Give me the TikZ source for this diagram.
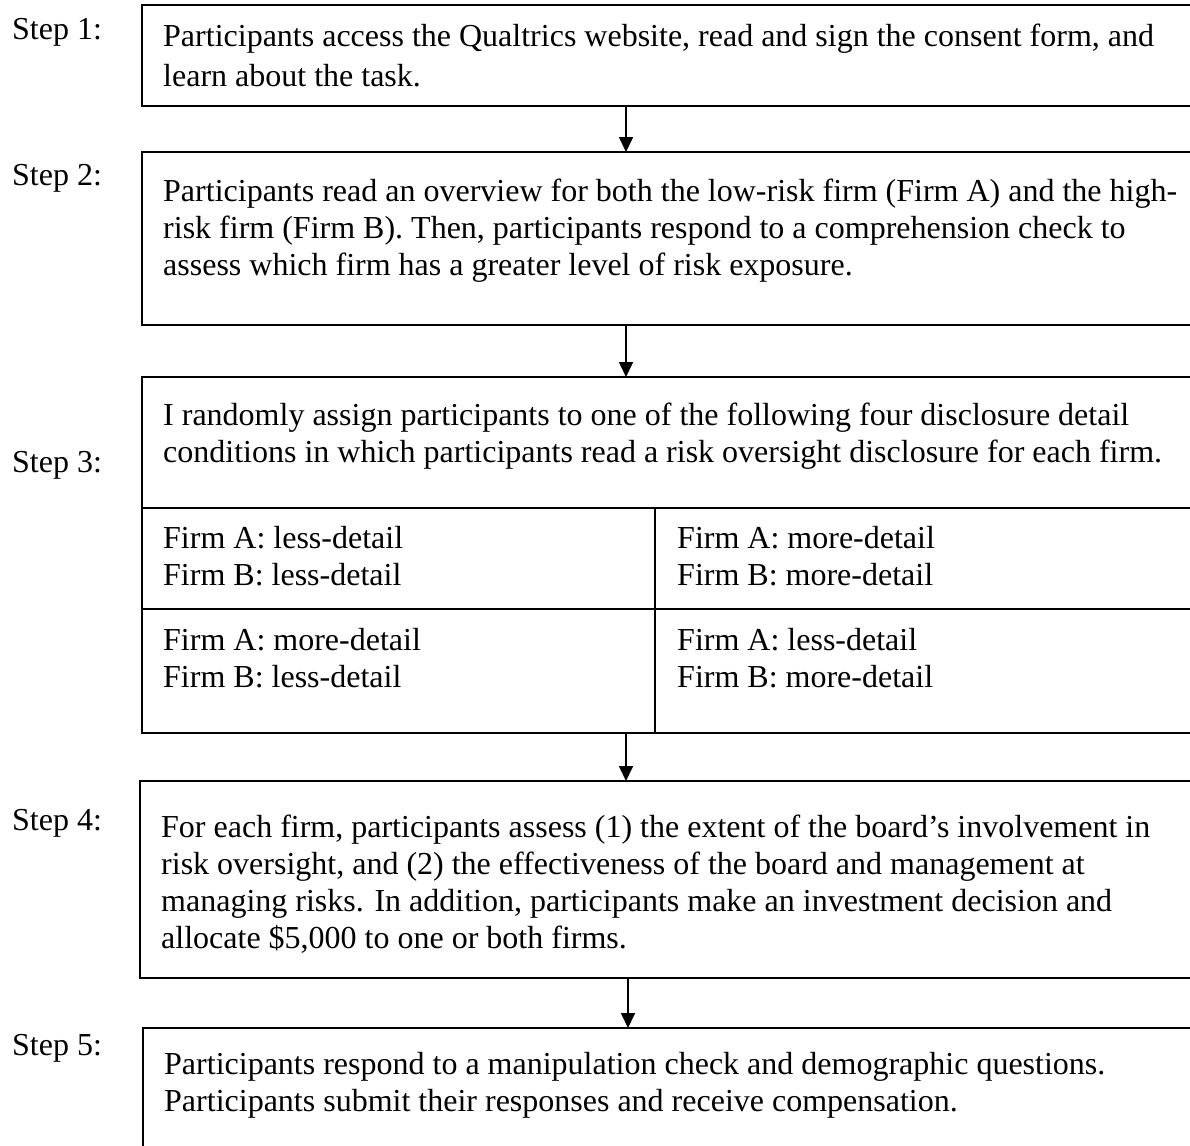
\documentclass[tikz,border=0pt]{standalone}
\usepackage{fontspec}
\setmainfont{Liberation Serif}
\usetikzlibrary{arrows.meta}
\begin{document}
\begin{tikzpicture}[x=1pt,y=-1pt,
  box/.style={draw, line width=1.7pt, inner sep=0pt, outer sep=0pt, anchor=north west, minimum width=1100pt},
  txt/.style={inner sep=0pt, anchor=base west, font=\fontsize{32}{37}\selectfont},
  rule/.style={line width=1.7pt},
  arr/.style={line width=1.7pt, -{Triangle[length=15pt,width=14pt]}}]
\useasboundingbox (0,0) rectangle (1190,1145);
\clip (0,0) rectangle (1190,1145);
\fill[white] (0,0) rectangle (1190,1145);
% boxes
\node[box, minimum height=101pt] (b1) at (142,5) {};
\node[box, minimum height=173pt] (b2) at (142,152) {};
\node[box, minimum height=356pt] (b3) at (142,377) {};
\node[box, minimum height=197pt] (b4) at (140,781) {};
\node[box, minimum height=200pt] (b5) at (143,1028) {};
% table inside step 3
\coordinate (t1) at (142,508);
\coordinate (t2) at (142,609);
\coordinate (tv) at (655,508);
\draw[rule] (t1) -- ++(1100,0);
\draw[rule] (t2) -- ++(1100,0);
\draw[rule] (tv) -- (tv |- b3.south);
% step labels
\node[txt] (s1) at (12,40) {Step 1:};
\node[txt] (s2) at (12,185) {Step 2:};
\node[txt] (s3) at (12,472) {Step 3:};
\node[txt] (s4) at (12,830) {Step 4:};
\node[txt] (s5) at (12,1055) {Step 5:};
% texts
\node[txt] (x1) at (163,47) {\vtop{\hbox{Participants access the Qualtrics website, read and sign the consent form, and}\vskip 3pt\hbox{learn about the task.}}};
\node[txt] (x2) at (163,201) {\vtop{\hbox{Participants read an overview for both the low-risk firm (Firm A) and the high-}\hbox{risk firm (Firm B). Then, participants respond to a comprehension check to}\hbox{assess which firm has a greater level of risk exposure.}}};
\node[txt] (x3) at (163,425) {\vtop{\hbox{I randomly assign participants to one of the following four disclosure detail}\hbox{conditions in which participants read a risk oversight disclosure for each firm.}}};
\node[txt] (c1) at (163,548) {\vtop{\hbox{Firm A: less-detail}\hbox{Firm B: less-detail}}};
\node[txt] (c2) at (677,548) {\vtop{\hbox{Firm A: more-detail}\hbox{Firm B: more-detail}}};
\node[txt] (c3) at (163,650) {\vtop{\hbox{Firm A: more-detail}\hbox{Firm B: less-detail}}};
\node[txt] (c4) at (677,650) {\vtop{\hbox{Firm A: less-detail}\hbox{Firm B: more-detail}}};
\node[txt] (x4) at (161,837) {\vtop{\hbox{For each firm, participants assess (1) the extent of the board’s involvement in}\hbox{risk oversight, and (2) the effectiveness of the board and management at}\hbox{managing risks. In addition, participants make an investment decision and}\hbox{allocate \$5,000 to one or both firms.}}};
\node[txt] (x5) at (164,1074) {\vtop{\hbox{Participants respond to a manipulation check and demographic questions.}\hbox{Participants submit their responses and receive compensation.}}};
% connectors
\coordinate (ax) at (626,0);
\coordinate (ay) at (628,0);
\draw[arr] (b1.south -| ax) -- (b2.north -| ax);
\draw[arr] (b2.south -| ax) -- (b3.north -| ax);
\draw[arr] (b3.south -| ax) -- (b4.north -| ax);
\draw[arr] (b4.south -| ay) -- (b5.north -| ay);
\end{tikzpicture}
\end{document}
